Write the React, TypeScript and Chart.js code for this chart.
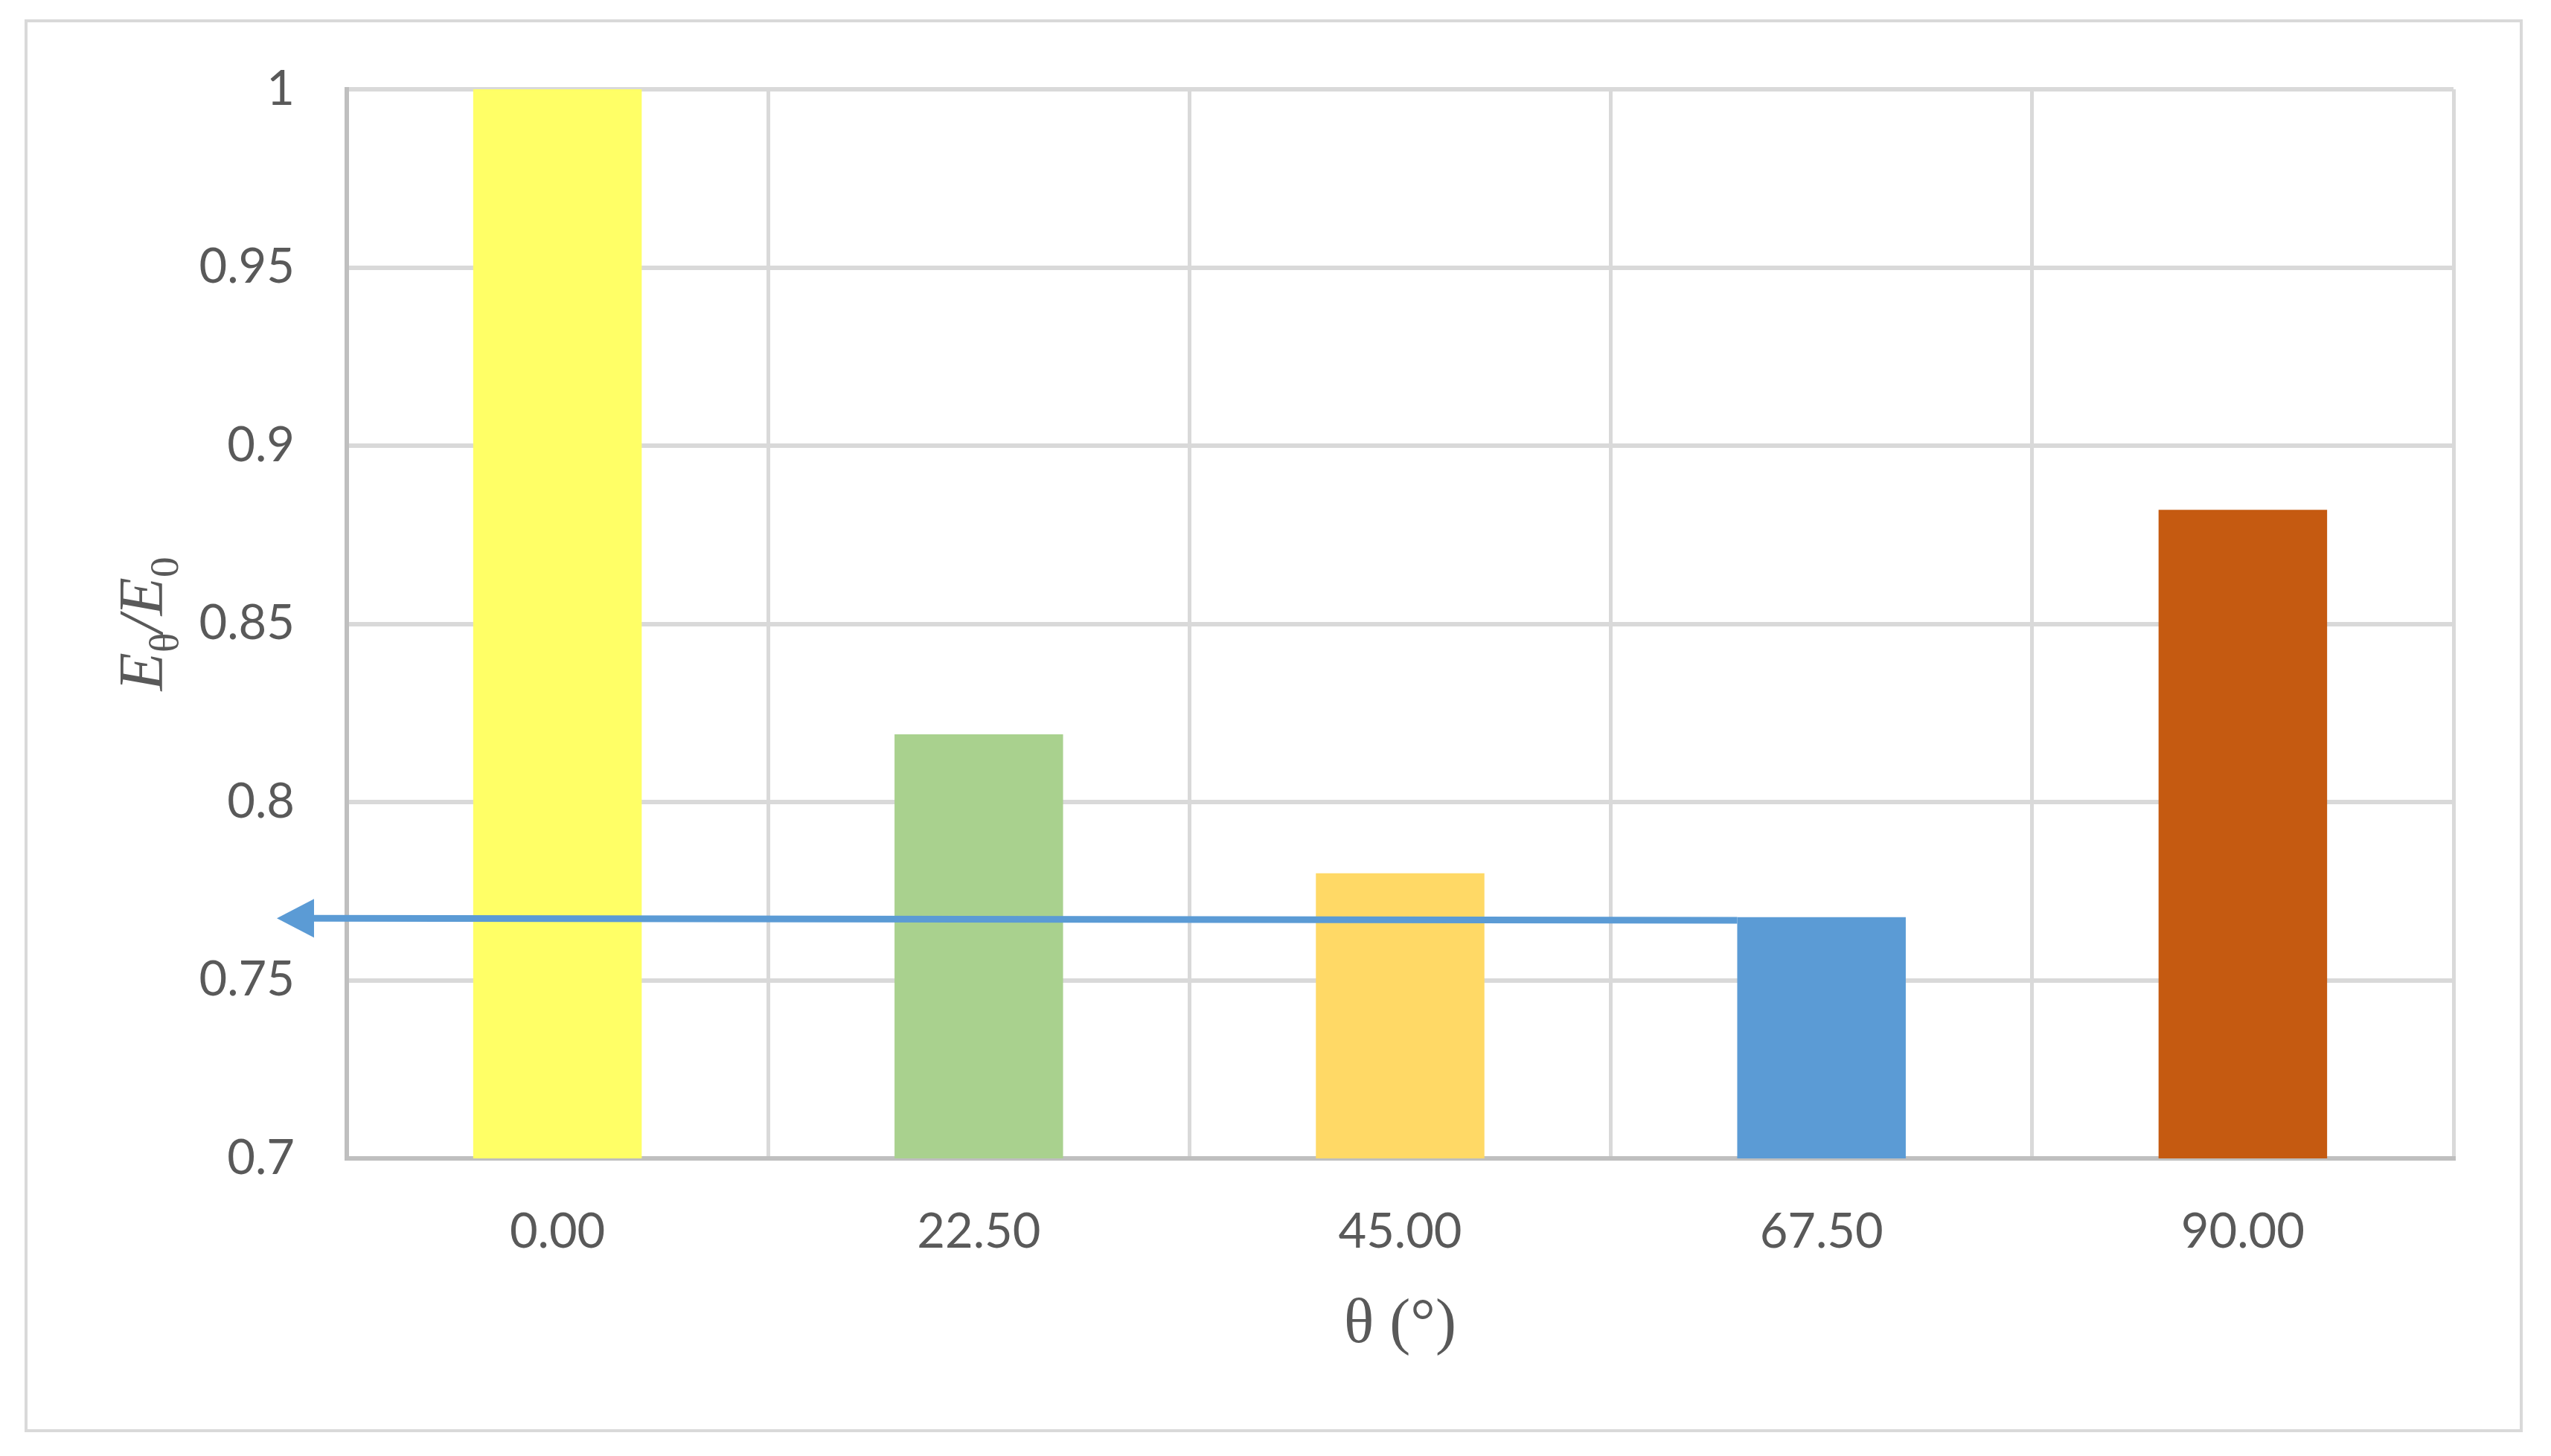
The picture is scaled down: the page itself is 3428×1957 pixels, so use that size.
import React, { useEffect, useRef } from "react";
import { Chart, registerables } from "chart.js";

Chart.register(...registerables);

const categories = ["0.00", "22.50", "45.00", "67.50", "90.00"];
const ratioValues = [1.0, 0.819, 0.78, 0.7677, 0.882];
const barColors = ["#FFFF66", "#A9D18E", "#FFD966", "#5B9BD5", "#C55A11"];
const yMin = 0.7;
const yMax = 1.0;
const yStep = 0.05;
// arrow annotation: x in category units, y in data units
const arrowX = [2.8, -0.666];
const arrowY = [0.7668, 0.7674];

const W = 3428;
const H = 1957;
const TEXT = "#595959";
const SERIF = "'Times New Roman', 'Liberation Serif', serif";
const SANS = "Lato, 'Open Sans', sans-serif";

const decorPlugin = {
  id: "decor",
  beforeDraw(chart: any) {
    const ctx = chart.ctx;
    ctx.save();
    ctx.fillStyle = "#ffffff";
    ctx.fillRect(0, 0, chart.width, chart.height);
    ctx.strokeStyle = "#d9d9d9";
    ctx.lineWidth = 4;
    ctx.strokeRect(35, 28, 3353, 1895);
    ctx.restore();
  },
  afterDatasetsDraw(chart: any) {
    const ctx = chart.ctx;
    const xs = chart.scales.x;
    const ys = chart.scales.y;
    const x1 = xs.getPixelForValue(arrowX[0]);
    const y1 = ys.getPixelForValue(arrowY[0]);
    const x2 = xs.getPixelForValue(arrowX[1]);
    const y2 = ys.getPixelForValue(arrowY[1]);
    const headLen = 50;
    const headHalf = 26;
    ctx.save();
    ctx.strokeStyle = "#5B9BD5";
    ctx.fillStyle = "#5B9BD5";
    ctx.lineWidth = 9;
    ctx.beginPath();
    ctx.moveTo(x1, y1);
    ctx.lineTo(x2 + headLen, y2);
    ctx.stroke();
    ctx.beginPath();
    ctx.moveTo(x2, y2);
    ctx.lineTo(x2 + headLen, y2 - headHalf);
    ctx.lineTo(x2 + headLen, y2 + headHalf);
    ctx.closePath();
    ctx.fill();
    ctx.restore();

    // y-axis title: E_θ / E_0
    const area = chart.chartArea;
    const cy = (area.top + area.bottom) / 2;
    const bx = 218;
    const mainFont = `italic 84px ${SERIF}`;
    const subFont = `55px ${SERIF}`;
    const parts = [
      { t: "E", f: mainFont, dy: 0 },
      { t: "θ", f: subFont, dy: 21 },
      { t: "/", f: mainFont, dy: 0 },
      { t: "E", f: mainFont, dy: 0 },
      { t: "0", f: subFont, dy: 21 },
    ];
    ctx.save();
    ctx.fillStyle = TEXT;
    ctx.textBaseline = "alphabetic";
    ctx.textAlign = "left";
    let total = 0;
    const widths = parts.map((p) => {
      ctx.font = p.f;
      const w = ctx.measureText(p.t).width;
      total += w;
      return w;
    });
    ctx.translate(bx, cy);
    ctx.rotate(-Math.PI / 2);
    let x = -total / 2;
    parts.forEach((p, i) => {
      ctx.font = p.f;
      ctx.fillText(p.t, x, p.dy);
      x += widths[i];
    });
    ctx.restore();
  },
};

export default function App() {
  const ref = useRef<HTMLCanvasElement | null>(null);
  useEffect(() => {
    if (!ref.current) return;
    const yTicks: number[] = [];
    for (let i = 0; i <= Math.round((yMax - yMin) / yStep); i++) {
      yTicks.push(Number((yMin + i * yStep).toFixed(2)));
    }
    const chart = new Chart(ref.current, {
      type: "bar",
      data: {
        labels: categories,
        datasets: [
          {
            data: ratioValues,
            backgroundColor: barColors,
            borderWidth: 0,
            barPercentage: 0.4,
            categoryPercentage: 1.0,
          },
        ],
      },
      options: {
        responsive: false,
        animation: false,
        devicePixelRatio: 1,
        layout: { padding: { top: 120, right: 131, bottom: 0, left: 0 } },
        plugins: {
          legend: { display: false },
          tooltip: { enabled: false },
        },
        scales: {
          x: {
            grid: { color: "#d9d9d9", lineWidth: 5, drawTicks: false, offset: true },
            border: { color: "#bfbfbf", width: 6 },
            ticks: {
              color: TEXT,
              font: { family: SANS, size: 65 },
              padding: 60,
              maxRotation: 0,
            },
            title: {
              display: true,
              text: "θ (°)",
              color: TEXT,
              font: { family: SERIF, size: 84 },
              padding: { top: 0, bottom: 125 },
            },
            afterFit(scale: any) {
              scale.height = 400;
            },
          },
          y: {
            min: yMin,
            max: yMax,
            grid: { color: "#d9d9d9", lineWidth: 6, drawTicks: false },
            border: { color: "#bfbfbf", width: 6 },
            afterBuildTicks(scale: any) {
              scale.ticks = yTicks.map((v) => ({ value: v }));
            },
            ticks: {
              color: TEXT,
              font: { family: SANS, size: 65 },
              padding: 70,
              callback: (v: any) => String(Number(Number(v).toFixed(2))),
            },
            afterFit(scale: any) {
              scale.width = 466;
            },
          },
        },
      },
      plugins: [decorPlugin],
    });
    return () => chart.destroy();
  }, []);
  return (
    <div style={{ position: "absolute", left: 0, top: 0, width: W, height: H, background: "#fff" }}>
      <canvas ref={ref} width={W} height={H} style={{ display: "block", width: W, height: H }} />
    </div>
  );
}
